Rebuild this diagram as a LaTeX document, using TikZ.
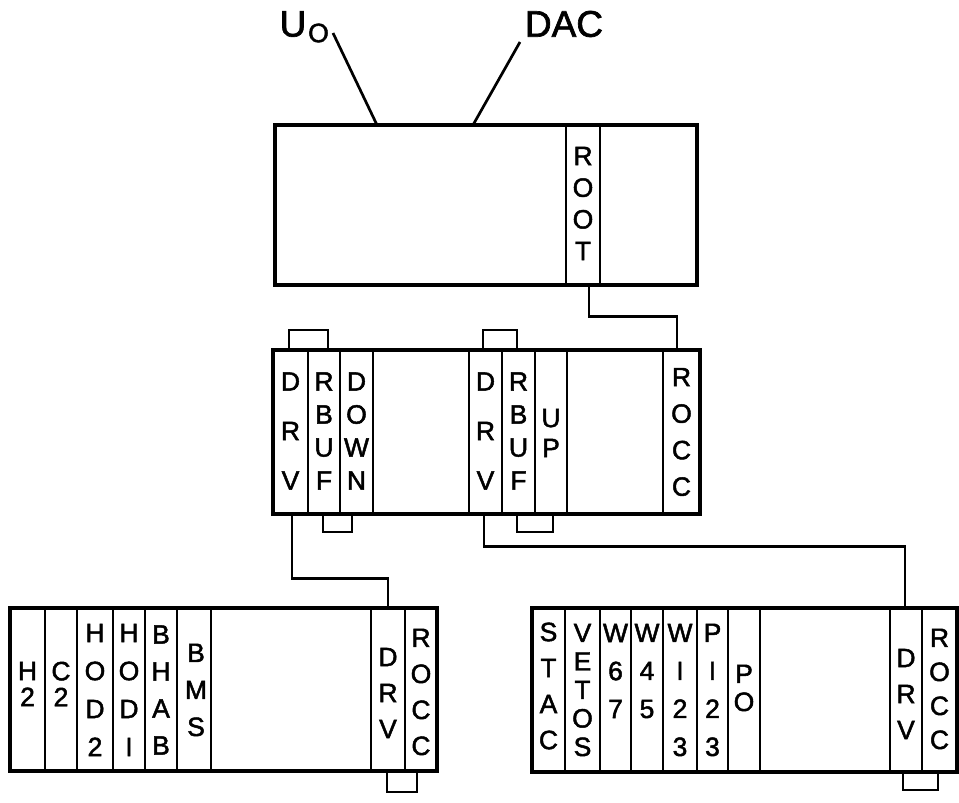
\documentclass[tikz,border=0pt]{standalone}
\usepackage{fontspec}
\setmainfont{Liberation Sans}[FakeBold=1.8]
\begin{document}
\begin{tikzpicture}[x=1pt,y=-1pt,
  frame/.style={draw, line width=3.6pt, inner sep=0pt},
  card/.style={draw, line width=2.8pt, inner sep=0pt, minimum width=#1},
  mcard/.style={card=#1, minimum height=164pt},
  bcard/.style={card=#1, minimum height=163pt},
  lbl/.style={font=\fontsize{26.5}{#1}\selectfont, align=center, inner sep=0pt},
  big/.style={font=\fontsize{37}{40}\selectfont, inner sep=0pt},
  wire/.style={line width=2.7pt},
  tab/.style={line width=2.8pt}]
\useasboundingbox (0,0) rectangle (959,803);

% ---------- top box ----------
\node[frame, minimum width=422pt, minimum height=160pt] (top) at (486,205) {};
\node[card=34pt, minimum height=160pt] (root) at (583,205) {};
\node[lbl=31.7] (root-t) at (583,203.5) {R\\O\\O\\T};

\node[big] (uo) at (293,24) {U};
\node[lbl=26] (uosub) at (318.5,33) {O};
\node[big] (dac) at (564,24) {DAC};
\coordinate (uoA) at (333,33);
\coordinate (uoB) at (377,125);
\coordinate (dacA) at (520,42);
\coordinate (dacB) at (473,125);
\draw[wire] (uoA) -- (uoB);
\draw[wire] (dacA) -- (dacB);

% ---------- middle crate ----------
\node[frame, minimum width=427pt, minimum height=164pt] (mid) at (486.5,432) {};
\node[mcard=35pt] (drvA) at (290.5,432) {};
\node[mcard=32pt] (rbufA) at (324,432) {};
\node[mcard=33pt] (down) at (356.5,432) {};
\node[mcard=33pt] (drvB) at (485.5,432) {};
\node[mcard=33pt] (rbufB) at (518.5,432) {};
\node[mcard=32pt] (up) at (551,432) {};
\node[mcard=37pt] (roccM) at (681.5,432) {};
\node[lbl=49.5] (drvA-t) at (290.5,431) {D\\R\\V};
\node[lbl=33] (rbufA-t) at (324,431) {R\\B\\U\\F};
\node[lbl=33] (down-t) at (356.5,431) {D\\O\\W\\N};
\node[lbl=49.5] (drvB-t) at (485.5,431) {D\\R\\V};
\node[lbl=33] (rbufB-t) at (518.5,431) {R\\B\\U\\F};
\node[lbl=30] (up-t) at (551,433) {U\\P};
\node[lbl=36.5] (roccM-t) at (681.5,432) {R\\O\\C\\C};
% tabs
\draw[tab] (289,350) |- (328,330) -- (328,350);
\draw[tab] (483,350) |- (517,330) -- (517,350);
\draw[tab] (323,514) |- (352,532) -- (352,514);
\draw[tab] (517,514) |- (553,532) -- (553,514);

% ---------- bottom left crate ----------
\node[frame, minimum width=427pt, minimum height=163pt] (bl) at (223.5,689.5) {};
\node[bcard=35pt] (h2) at (27.5,689.5) {};
\node[bcard=32pt] (c2) at (61,689.5) {};
\node[bcard=36pt] (hod2) at (95,689.5) {};
\node[bcard=32pt] (hodi) at (129,689.5) {};
\node[bcard=32pt] (bhab) at (161,689.5) {};
\node[bcard=34pt] (bms) at (194,689.5) {};
\node[bcard=34pt] (drvL) at (388,689.5) {};
\node[bcard=32pt] (roccL) at (421,689.5) {};
\node[lbl=26] (h2-t) at (27.5,684) {H\\2};
\node[lbl=26] (c2-t) at (61,684) {C\\2};
\node[lbl=38] (hod2-t) at (95,690) {H\\O\\D\\2};
\node[lbl=38] (hodi-t) at (129,690) {H\\O\\D\\I};
\node[lbl=37] (bhab-t) at (161,690) {B\\H\\A\\B};
\node[lbl=37] (bms-t) at (196,690) {B\\M\\S};
\node[lbl=36] (drvL-t) at (388,693) {D\\R\\V};
\node[lbl=36] (roccL-t) at (421,692) {R\\O\\C\\C};
\draw[tab] (387,771) |- (417,792) -- (417,771);

% ---------- bottom right crate ----------
\node[frame, minimum width=425pt, minimum height=164pt] (br) at (744.5,690) {};
\node[mcard=33pt] (stac) at (548.5,690) {};
\node[mcard=35pt] (vetos) at (582.5,690) {};
\node[mcard=31pt] (w67) at (615.5,690) {};
\node[mcard=32pt] (w45) at (647,690) {};
\node[mcard=34pt] (w123) at (680,690) {};
\node[mcard=31pt] (pi23) at (712.5,690) {};
\node[mcard=32pt] (po) at (744,690) {};
\node[mcard=32pt] (drvR) at (906,690) {};
\node[mcard=35pt] (roccR) at (939.5,690) {};
\node[lbl=36] (stac-t) at (548.5,686) {S\\T\\A\\C};
\node[lbl=28.5] (vetos-t) at (582.5,690) {V\\E\\T\\O\\S};
\node[lbl=38] (w67-t) at (615.5,671) {W\\6\\7};
\node[lbl=38] (w45-t) at (647,671) {W\\4\\5};
\node[lbl=38] (w123-t) at (680,690) {W\\I\\2\\3};
\node[lbl=38] (pi23-t) at (712.5,690) {P\\I\\2\\3};
\node[lbl=28] (po-t) at (744,688) {P\\O};
\node[lbl=36] (drvR-t) at (906,694) {D\\R\\V};
\node[lbl=34] (roccR-t) at (939.5,689) {R\\O\\C\\C};
\draw[tab] (903,772) |- (938,790) -- (938,772);

% ---------- connectors ----------
\draw[wire] ([xshift=6pt]root.south) -- ++(0,30) -| ([xshift=-4.5pt]roccM.north);
\draw[wire] ([xshift=1.5pt]drvA.south) -- ++(0,63) -| (drvL.north);
\draw[wire] ([xshift=-1.5pt]drvB.south) -- ++(0,31) -| ([xshift=-1pt]drvR.north);
\end{tikzpicture}
\end{document}
